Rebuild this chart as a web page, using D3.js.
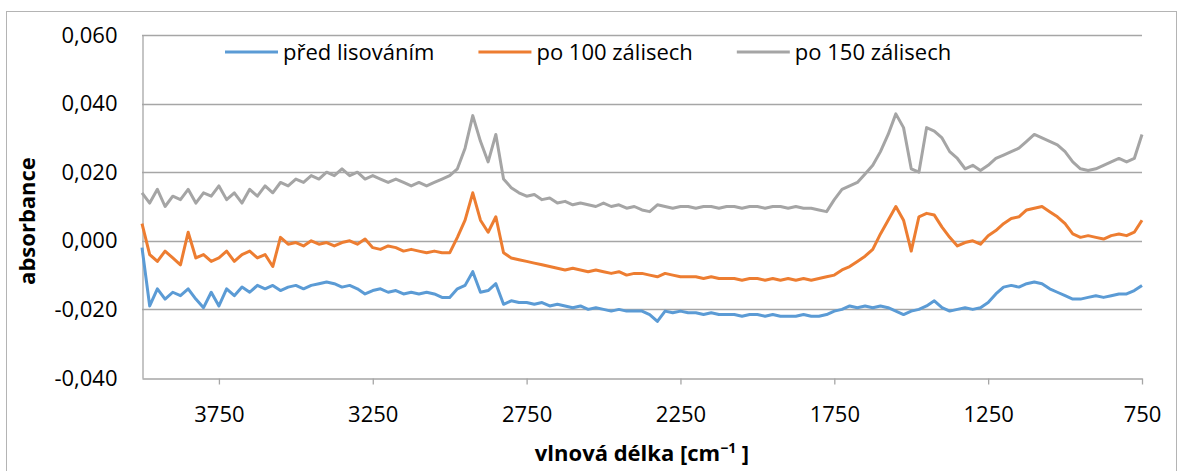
<!DOCTYPE html>
<html>
<head>
<meta charset="utf-8">
<script src="https://cdn.jsdelivr.net/npm/d3@7"></script>
<style>
  body { margin: 0; background: #fff; }
  svg text { font-family: "Open Sans", "Noto Sans", sans-serif; fill: #000; }
</style>
</head>
<body>
<div class="chart"></div>
<script>
'use strict';

// wavenumber grid, cm-1 (4000 -> 750, every 25)
const wavenumbers = d3.range(4000, 725, -25);

// absorbance in thousandths
const predLisovanim = [
  -2, -19, -14, -17, -15, -16, -14, -17, -19.5, -15,
  -19, -14, -16, -13.5, -15, -13, -14, -13, -14.5, -13.5,
  -13, -14, -13, -12.5, -12, -12.5, -13.5, -13, -14, -15.5,
  -14.5, -14, -15, -14.5, -15.5, -15, -15.5, -15, -15.5, -16.5,
  -16.5, -14, -13, -9, -15, -14.5, -12.5, -18.5, -17.5, -18,
  -18, -18.5, -18, -19, -18.5, -19, -19.5, -19, -20, -19.5,
  -20, -20.5, -20, -20.5, -20.5, -20.5, -21.5, -23.5, -20.5, -21,
  -20.5, -21, -21, -21.5, -21, -21.5, -21.5, -21.5, -22, -21.5,
  -21.5, -22, -21.5, -22, -22, -22, -21.5, -22, -22, -21.5,
  -20.5, -20, -19, -19.5, -19, -19.5, -19, -19.5, -20.5, -21.5,
  -20.5, -20, -19, -17.5, -19.5, -20.5, -20, -19.5, -20, -19.5,
  -18, -15.5, -13.5, -13, -13.5, -12.5, -12, -12.5, -14, -15,
  -16, -17, -17, -16.5, -16, -16.5, -16, -15.5, -15.5, -14.5,
  -13
];

const po100 = [
  5, -4, -6, -3, -5, -7, 2.5, -5, -4, -6,
  -5, -3, -6, -4, -3, -5, -4, -7.5, 1, -1,
  -0.5, -1.5, 0, -1, -0.5, -1.5, -0.5, 0, -1, 0.5,
  -2, -2.5, -1.5, -2, -3, -2.5, -3, -3.5, -3, -3.5,
  -3.5, 1, 6, 14, 6, 2.5, 7, -3.5, -5, -5.5,
  -6, -6.5, -7, -7.5, -8, -8.5, -8, -8.5, -9, -8.5,
  -9, -9.5, -9, -10, -9.5, -9.5, -10, -10.5, -9.5, -10,
  -10.5, -10.5, -10.5, -11, -10.5, -11, -11, -11, -11.5, -11,
  -11, -11.5, -11, -11.5, -11, -11.5, -11, -11.5, -11, -10.5,
  -10, -8.5, -7.5, -6, -4.5, -2.5, 2, 6, 10, 6,
  -3, 7, 8, 7.5, 4, 1, -1.5, -0.5, 0, -1,
  1.5, 3, 5, 6.5, 7, 9, 9.5, 10, 8.5, 7,
  5, 2, 1, 1.5, 1, 0.5, 1.5, 2, 1.5, 2.5,
  6
];

const po150 = [
  14, 11, 15, 10, 13, 12, 15, 11, 14, 13,
  16, 12, 14, 11, 15, 13, 16, 14, 17, 16,
  18, 17, 19, 18, 20, 19, 21, 19, 20, 18,
  19, 18, 17, 18, 17, 16, 17, 16, 17, 18,
  19, 21, 27, 36.5, 29, 23, 31, 18, 15.5, 14,
  13, 13.5, 12, 12.5, 11, 11.5, 10.5, 11, 10.5, 10,
  11, 10, 10.5, 9.5, 10, 9, 8.5, 10.5, 10, 9.5,
  10, 10, 9.5, 10, 10, 9.5, 10, 10, 9.5, 10,
  10, 9.5, 10, 10, 9.5, 10, 9.5, 9.5, 9, 8.5,
  12, 15, 16, 17, 19.5, 22, 26, 31, 37, 33,
  21, 20, 33, 32, 30, 26, 24, 21, 22, 20.5,
  22, 24, 25, 26, 27, 29, 31, 30, 29, 28,
  26, 23, 21, 20.5, 21, 22, 23, 24, 23, 24,
  31
];

const seriesNames = ['před lisováním', 'po 100 zálisech', 'po 150 zálisech'];
const seriesColors = ['#5b9bd5', '#ed7d31', '#a5a5a5'];
const xTicks = [3750, 3250, 2750, 2250, 1750, 1250, 750];
const yTicks = [-40, -20, 0, 20, 40, 60];

const svg = d3.select('.chart').append('svg')
  .attr('width', 1180).attr('height', 471);

// chart frame
svg.append('rect')
  .attr('x', 6.5).attr('y', 11.5)
  .attr('width', 1170).attr('height', 480)
  .attr('fill', 'none').attr('stroke', '#b4b4b4');

const xScale = d3.scaleLinear().domain([4000, 750]).range([142, 1142]);
const yScale = d3.scaleLinear().domain([-40, 60]).range([378, 35]);

const czFormat = d3.formatLocale({
  decimal: ',', thousands: ' ', grouping: [3], currency: ['', ''], minus: '-'
}).format('.3f');

// gridlines
svg.append('g').selectAll('line')
  .data(yTicks.filter(d => d > -40))
  .enter().append('line')
    .attr('x1', 142).attr('x2', 1142)
    .attr('y1', d => Math.round(yScale(d)) + 0.5)
    .attr('y2', d => Math.round(yScale(d)) + 0.5)
    .attr('stroke', '#a6a6a6').attr('stroke-width', 1.3);

// y axis
let yAxis = d3.axisLeft(yScale).tickValues(yTicks)
  .tickSize(0).tickPadding(25)
  .tickFormat(d => czFormat(d / 1000));
let gy = svg.append('g').attr('transform', 'translate(142.5,0)').call(yAxis);
gy.select('.domain').attr('stroke', '#a6a6a6').attr('stroke-width', 1.3);
gy.selectAll('text').style('font-size', '22px').attr('fill', '#000');

// x axis
let xAxis = d3.axisBottom(xScale).tickValues(xTicks)
  .tickSize(6).tickSizeOuter(0).tickPadding(22)
  .tickFormat(d3.format('d'));
let gx = svg.append('g').attr('transform', 'translate(0,378.5)').call(xAxis);
gx.select('.domain').attr('stroke', '#a6a6a6').attr('stroke-width', 1.3);
gx.selectAll('line').attr('stroke', '#a6a6a6').attr('stroke-width', 1.3);
gx.selectAll('text').style('font-size', '22px').attr('fill', '#000');

// series
const allSeries = [predLisovanim, po100, po150];
const line = d3.line()
  .x((d, i) => xScale(wavenumbers[i]))
  .y(d => yScale(d));

allSeries.forEach((vals, k) => {
  svg.append('path')
    .attr('d', line(vals))
    .attr('fill', 'none')
    .attr('stroke', seriesColors[k])
    .attr('stroke-width', 3)
    .attr('stroke-linejoin', 'round');
});

// legend
let legend = svg.append('g').attr('transform', 'translate(225,52)');
let lx = 0;
seriesNames.forEach((name, k) => {
  legend.append('line')
    .attr('x1', lx).attr('x2', lx + 53)
    .attr('stroke', seriesColors[k]).attr('stroke-width', 3);
  let t = legend.append('text')
    .attr('x', lx + 58).attr('dy', '0.35em')
    .style('font-size', '22px')
    .text(name);
  lx += 58 + t.node().getComputedTextLength() + 44;
});

// axis titles
let xt = svg.append('text')
  .attr('x', 642).attr('y', 461)
  .attr('text-anchor', 'middle')
  .style('font-size', '22px').style('font-weight', 'bold')
  .text('vlnová délka [cm');
xt.append('tspan').attr('dy', -8).style('font-size', '14px').text('−1');
xt.append('tspan').attr('dy', 8).text(' ]');

svg.append('text')
  .attr('transform', 'translate(35,221)rotate(-90)')
  .attr('text-anchor', 'middle')
  .style('font-size', '22px').style('font-weight', 'bold')
  .text('absorbance');
</script>
</body>
</html>
